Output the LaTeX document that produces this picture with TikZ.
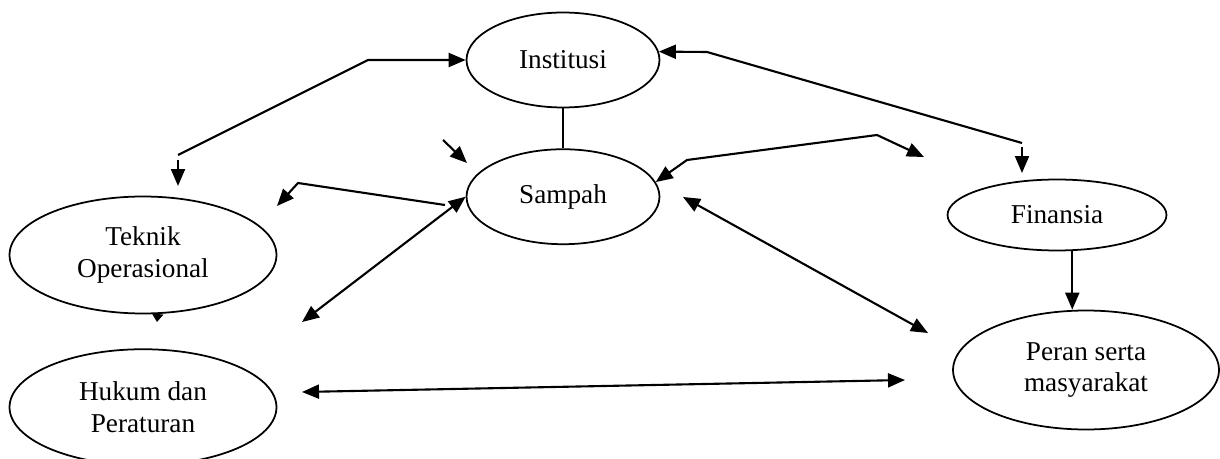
\documentclass[tikz,border=0pt]{standalone}
\usepackage{fontspec}
\setmainfont{Liberation Serif}
\usetikzlibrary{arrows.meta,shapes,positioning,calc}

\begin{document}
\begin{tikzpicture}[
x=0.02cm, y=-0.02cm,
>={Triangle[length=3.4mm,width=2.8mm]}, line width=1.2pt,
aspect-node/.style = {ellipse,draw=black,line width=1pt,inner sep=0pt,align=center,font=\fontsize{15.5}{18}\selectfont},
small-tip/.style = {-{Triangle[length=1.6mm,width=2.2mm]}}
]
\useasboundingbox (0,0) rectangle (1220,459);

\node [aspect-node, minimum width=3.86cm, minimum height=1.9cm] (institusi) at (563,60) {Institusi};
\node [aspect-node, minimum width=3.86cm, minimum height=1.9cm, below=0.8cm of institusi] (sampah) {Sampah};

\node [aspect-node, minimum width=5.34cm, minimum height=2.34cm] (teknik) at (143,255) {Teknik\\Operasional};
\node [aspect-node, minimum width=5.34cm, minimum height=2.32cm, below=0.68cm of teknik] (hukum) {Hukum dan\\Peraturan};

\node [aspect-node, minimum width=4.38cm, minimum height=1.42cm] (finansia) at (1057,215) {Finansia};
\node [aspect-node, minimum width=5.32cm, minimum height=2.38cm] (peran) at (1086,370) {Peran serta\\masyarakat};

% free ends
\coordinate (lt-end) at (178,155);
\coordinate (lt-turn) at (368,60);
\coordinate (lt-down1) at (178,160);
\coordinate (lt-down2) at (178,186);
\coordinate (rt-turn) at (707,52);
\coordinate (rt-end) at (1022,143);
\coordinate (rt-down1) at (1022,147);
\coordinate (rt-down2) at (1022,173);
\coordinate (sp-mid) at (687,160);
\coordinate (sp-top) at (877,135);
\coordinate (sp-tip) at (924,157);
\coordinate (nw-start) at (443,140);
\coordinate (nw-tip) at (467,163);
\coordinate (w-start) at (445,205);
\coordinate (w-turn) at (298,183);
\coordinate (w-tip) at (277,206);
\coordinate (sw-tip) at (302,322);
\coordinate (se-top) at (683,197);
\coordinate (se-tip) at (928,333);
\coordinate (h-left) at (302,392);
\coordinate (h-right) at (905,380);
\coordinate (op-tip) at (157,322);

% arrows
\draw[->] (lt-end) -- (lt-turn) -- (institusi.west);
\draw[->] (lt-down1) -- (lt-down2);
\draw[->] (rt-end) -- (rt-turn) -- (institusi.5);
\draw[->] (rt-down1) -- (rt-down2);
\draw (institusi.south) -- (sampah.north);

\draw[<->] (sp-tip) -- (sp-top) -- (sp-mid) -- (sampah.9);
\draw[->] (nw-start) -- (nw-tip);
\draw[->] (w-start) -- (w-turn) -- (w-tip);
\draw[<->] (sampah.west) -- (sw-tip);
\draw[<->] (se-top) -- (se-tip);
\draw[<->] (h-left) -- (h-right);

\draw[->] (finansia.-67) -- (finansia.-67 |- peran.north);
\draw[small-tip] (teknik.-76) -- (op-tip);

\end{tikzpicture}
\end{document}
